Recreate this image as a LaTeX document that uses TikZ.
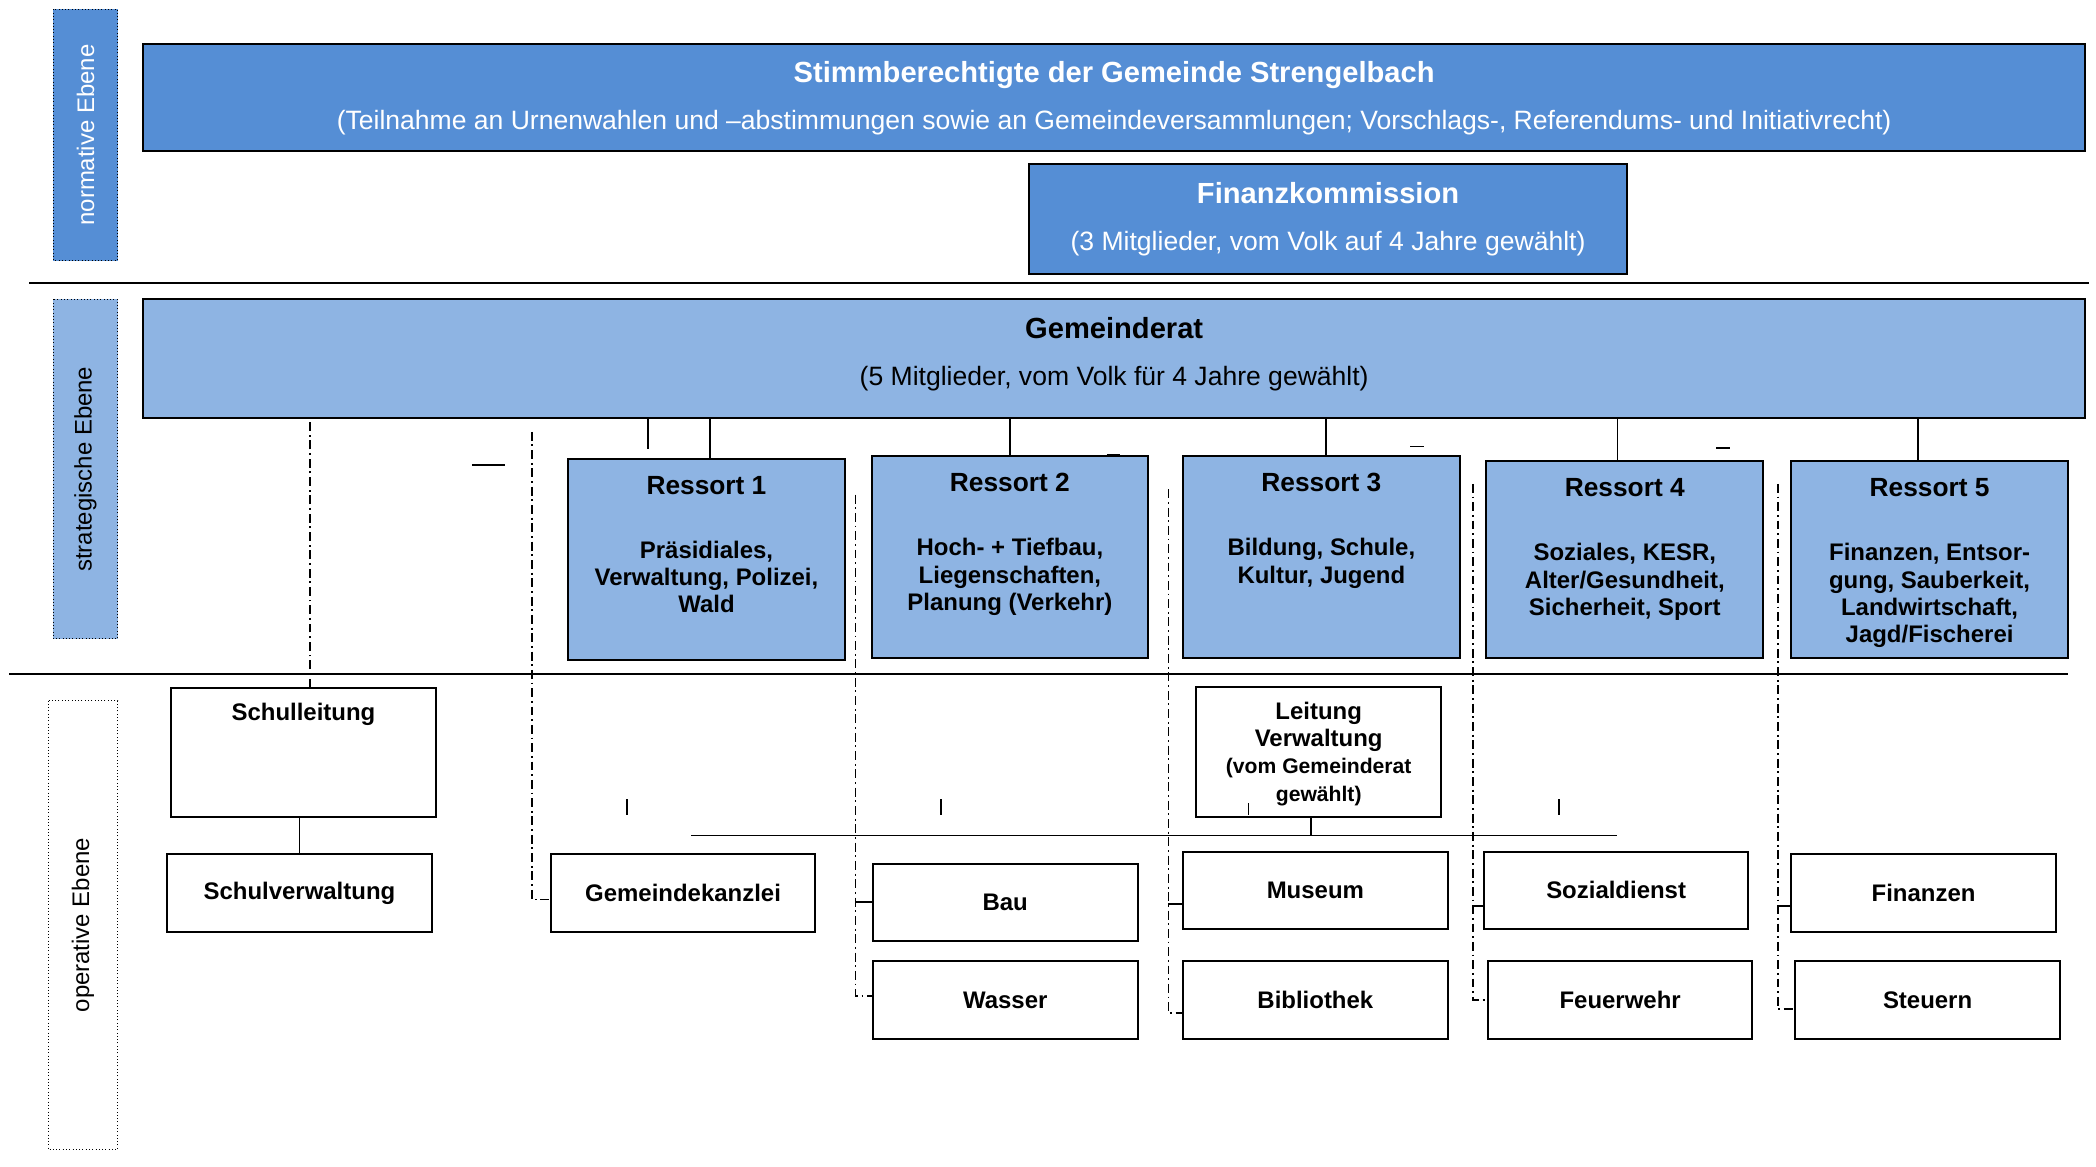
\documentclass[tikz,border=0pt]{standalone}
\usepackage{fontspec}
\setmainfont{Liberation Sans}
\usetikzlibrary{positioning}
\definecolor{dunkelblau}{RGB}{85,142,213}
\definecolor{hellblau}{RGB}{142,180,227}
\tikzset{
  ebene/.style={draw, densely dotted, rotate=90, inner sep=0, font=\fontsize{10.2}{12}\selectfont},
  kasten/.style={draw, line width=0.85pt, inner sep=0},
  kopf/.style={kasten, minimum width=29.06cm},
  ressort/.style={kasten, fill=hellblau, minimum width=4.14cm},
  stelle/.style={kasten, minimum width=3.96cm, minimum height=1.16cm, font=\bfseries\fontsize{10.2}{11.6}\selectfont},
  kopftext/.style={align=center, inner sep=0, font=\fontsize{11.3}{13}\selectfont},
  ressorttext/.style={align=center, inner sep=0, font=\bfseries\fontsize{10.2}{11.6}\selectfont},
  strich/.style={line width=0.75pt},
  strichpunkt/.style={line width=0.7pt, dash pattern=on 3.8pt off 1.6pt on 0.8pt off 1.6pt},
  trennlinie/.style={line width=0.85pt},
}
\newcommand{\kopftitel}[1]{{\bfseries\fontsize{12.4}{13}\selectfont #1}\\[7pt]}
\newcommand{\ressorttitel}[1]{{\fontsize{11.2}{11.6}\selectfont #1}\\[15.7pt]}
\begin{document}
\begin{tikzpicture}[x=0.02cm, y=-0.02cm]
\useasboundingbox (0,0) rectangle (1568,873);
% Ebenen
\node[ebene, fill=dunkelblau, text=white, minimum width=3.76cm, minimum height=0.96cm] (normativ) at (64,101){normative Ebene};
\node[ebene, fill=hellblau, minimum width=5.08cm, minimum height=0.96cm] (strategisch) at (64,351){strategische Ebene};
\node[ebene, minimum width=6.72cm, minimum height=1.04cm] (operativ) at (62,692){operative Ebene};
\draw[trennlinie] (22,212) -- (1563,212);
\draw[trennlinie] (7,504) -- (1547,504);
% normative Ebene
\node[kopf, fill=dunkelblau, minimum height=1.6cm] (stimm) at (833.5,73){};
\node[kopftext, text=white, below=0.27cm of stimm.north] (stimmtext){\kopftitel{Stimmberechtigte der Gemeinde Strengelbach}(Teilnahme an Urnenwahlen und –abstimmungen sowie an Gemeindeversammlungen; Vorschlags-, Referendums- und Initiativrecht)};
\node[kasten, fill=dunkelblau, minimum width=8.94cm, minimum height=1.64cm] (fiko) at (993.5,164){};
\node[kopftext, text=white, below=0.27cm of fiko.north] (fikotext){\kopftitel{Finanzkommission}(3 Mitglieder, vom Volk auf 4 Jahre gewählt)};
% strategische Ebene
\node[kopf, fill=hellblau, minimum height=1.78cm] (gr) at (833.5,268.5){};
\node[kopftext, below=0.28cm of gr.north] (grtext){\kopftitel{Gemeinderat}(5 Mitglieder, vom Volk für 4 Jahre gewählt)};
\node[ressort, minimum height=3.02cm] (r1) at (528.5,418.5){};
\node[ressorttext, below=0.27cm of r1.north] (r1text){\ressorttitel{Ressort 1}Präsidiales,\\Verwaltung, Polizei,\\Wald};
\node[ressort, minimum height=3.02cm] (r2) at (755.5,416.5){};
\node[ressorttext, below=0.27cm of r2.north] (r2text){\ressorttitel{Ressort 2}Hoch- + Tiefbau,\\Liegenschaften,\\Planung (Verkehr)};
\node[ressort, minimum height=3.02cm] (r3) at (988.5,416.5){};
\node[ressorttext, below=0.27cm of r3.north] (r3text){\ressorttitel{Ressort 3}Bildung, Schule,\\Kultur, Jugend};
\node[ressort, minimum height=2.94cm] (r4) at (1215.5,418.5){};
\node[ressorttext, below=0.27cm of r4.north] (r4text){\ressorttitel{Ressort 4}Soziales, KESR,\\Alter/Gesundheit,\\Sicherheit, Sport};
\node[ressort, minimum height=2.94cm] (r5) at (1443.5,418.5){};
\node[ressorttext, below=0.27cm of r5.north] (r5text){\ressorttitel{Ressort 5}Finanzen, Entsor-\\gung, Sauberkeit,\\Landwirtschaft,\\Jagd/Fischerei};
\coordinate (g0) at (485,313);
\coordinate (g0e) at (485,336);
\coordinate (g1) at (531,313);
\coordinate (g3) at (992,313);
\coordinate (g4) at (1210,313);
\coordinate (g5) at (1435,313);
\draw[strich] (g0) -- (g0e);
\draw[strich] (g1) -- (g1 |- r1.north);
\draw[strich] (r2.north) -- (r2.north |- gr.south);
\draw[strich] (g3) -- (g3 |- r3.north);
\draw[strich] (g4) -- (g4 |- r4.north);
\draw[strich] (g5) -- (g5 |- r5.north);
\draw[line width=0.9pt] (353,348) -- (378,348);
\draw[strich] (828,340) -- (838,340);
\draw[strich] (1055,334) -- (1065,334);
\draw[strich] (1284,335) -- (1294,335);
% operative Ebene
\node[stelle, minimum height=1.92cm] (schulleitung) at (227,563){};
\node[ressorttext, below=0.23cm of schulleitung.north] (schulleitungtext){Schulleitung};
\node[stelle] (schulverwaltung) at (224,668){Schulverwaltung};
\node[stelle] (kanzlei) at (511,668){Gemeindekanzlei};
\node[stelle] (bau) at (752,675){Bau};
\node[stelle] (wasser) at (752,748){Wasser};
\node[stelle, minimum width=3.66cm, minimum height=1.94cm] (leitung) at (986.5,562.5){};
\node[ressorttext, below=0.23cm of leitung.north] (leitungtext){Leitung\\Verwaltung\\{\fontsize{9}{10.4}\selectfont (vom Gemeinderat}\\{\fontsize{9}{10.4}\selectfont gewählt)}};
\node[stelle] (museum) at (984,666){Museum};
\node[stelle] (bibliothek) at (984,748){Bibliothek};
\node[stelle] (sozialdienst) at (1209,666){Sozialdienst};
\node[stelle] (feuerwehr) at (1212,748){Feuerwehr};
\node[stelle] (finanzen) at (1439,668){Finanzen};
\node[stelle] (steuern) at (1442,748){Steuern};
\draw[strichpunkt] ([xshift=0.1cm]schulleitung.north) -- ([xshift=0.1cm]schulleitung.north |- gr.south);
\draw[strich] (schulverwaltung.north) -- (schulverwaltung.north |- schulleitung.south);
\coordinate (s1) at (398,323);
\coordinate (s2) at (640,370);
\coordinate (s3) at (874,366);
\coordinate (s4) at (1102,362);
\coordinate (s5) at (1330,362);
\draw[strichpunkt] (s1) |- ([yshift=-0.1cm]kanzlei.west);
\draw[strichpunkt] (s2) |- ([yshift=0.06cm]wasser.west);
\draw[strich] (bau.west) -- (bau.west -| s2);
\draw[strichpunkt] (s3) |- ([yshift=-0.2cm]bibliothek.west);
\draw[strich] ([yshift=-0.2cm]museum.west) -- ([yshift=-0.2cm]museum.west -| s3);
\draw[strichpunkt] (s4) |- (feuerwehr.west);
\draw[strich] ([yshift=-0.24cm]sozialdienst.west) -- ([yshift=-0.24cm]sozialdienst.west -| s4);
\draw[strichpunkt] (s5) |- ([yshift=-0.14cm]steuern.west);
\draw[strich] ([yshift=-0.2cm]finanzen.west) -- ([yshift=-0.2cm]finanzen.west -| s5);
\coordinate (l1) at (517,625);
\coordinate (l2) at (1210,625);
\draw[strich] (l1) -- (l2);
\draw[strich] ([xshift=-0.11cm]leitung.south) -- ([xshift=-0.11cm]leitung.south |- l1);
\foreach \x in {469,704,1166}
  \draw[strich] (\x,598) -- (\x,610);
\draw[strich] (934,601) -- (934,610);
\end{tikzpicture}
\end{document}
